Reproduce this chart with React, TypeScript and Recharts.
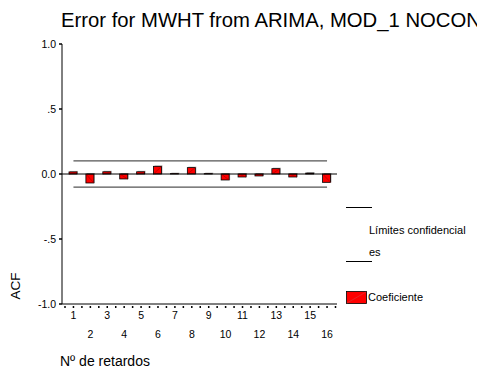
import React from "react";
import {
  ComposedChart,
  Bar,
  Line,
  XAxis,
  YAxis,
  ReferenceLine,
  Legend,
} from "recharts";

const lags = ["1", "2", "3", "4", "5", "6", "7", "8", "9", "10", "11", "12", "13", "14", "15", "16"];
const acfValues = [0.016, -0.069, 0.017, -0.038, 0.017, 0.059, 0.003, 0.049, 0.003, -0.046, -0.023, -0.015, 0.041, -0.023, 0.007, -0.064];
const upperLimits = [0.101, 0.101, 0.101, 0.101, 0.101, 0.101, 0.101, 0.101, 0.101, 0.101, 0.101, 0.101, 0.101, 0.101, 0.101, 0.101];
const lowerLimits = [-0.101, -0.101, -0.101, -0.101, -0.101, -0.101, -0.101, -0.101, -0.101, -0.101, -0.101, -0.101, -0.101, -0.101, -0.101, -0.101];
const yTicks = [-1, -0.5, 0, 0.5, 1];

const FONT = "'Liberation Sans', Arial, sans-serif";
const RED = "#ff0000";
const HALF_STEP = 8.45;

const data = lags.map((lag, i) => ({
  lag,
  acf: acfValues[i],
  upper: upperLimits[i],
  lower: lowerLimits[i],
}));

function fmtY(v: number) {
  const s = v.toFixed(1);
  if (v !== 0 && Math.abs(v) < 1) return s.replace("0.", ".");
  return s;
}

function AcfBar(props: any) {
  const { x, y, width, height } = props;
  const top = Math.min(y, y + height);
  const bottom = Math.max(y, y + height);
  const h = bottom - top;
  const pos = (props.payload?.acf ?? 0) >= 0;
  return (
    <g>
      <rect x={x + 1} y={top - 1} width={width} height={h + 1} fill="#b8b8b8" />
      <rect x={x} y={top} width={width} height={h} fill={RED} stroke="#000" strokeWidth={0.8} />
      {h > 2 && (
        <line
          x1={x}
          y1={pos ? bottom : top}
          x2={x + width}
          y2={pos ? top : bottom}
          stroke="#a00000"
          strokeWidth={0.6}
        />
      )}
    </g>
  );
}

function LagTick(props: any) {
  const { x, y, payload } = props;
  const even = Number(payload.value) % 2 === 0;
  return (
    <g>
      <line x1={x} x2={x} y1={y} y2={y + 2} stroke="#000" strokeWidth={1.5} />
      <line x1={x - HALF_STEP} x2={x - HALF_STEP} y1={y} y2={y + 2} stroke="#000" strokeWidth={1.5} />
      {payload.value === "16" && (
        <line x1={x + HALF_STEP} x2={x + HALF_STEP} y1={y} y2={y + 2} stroke="#000" strokeWidth={1.5} />
      )}
      <text
        x={x}
        y={y + (even ? 32 : 13)}
        textAnchor="middle"
        fontSize={10.5}
        fontFamily={FONT}
        fill="#000"
      >
        {payload.value}
      </text>
    </g>
  );
}

function AcfLabel(props: any) {
  const vb = props.viewBox || {};
  const cx = 15.5;
  const cy = (vb.y ?? 44) + (vb.height ?? 260) - 18;
  return (
    <text
      x={cx}
      y={cy}
      transform={`rotate(-90 ${cx} ${cy})`}
      textAnchor="middle"
      dominantBaseline="central"
      fontSize={13.5}
      fontFamily={FONT}
      fill="#000"
    >
      ACF
    </text>
  );
}

function LagLabel(props: any) {
  const vb = props.viewBox || {};
  return (
    <text
      x={(vb.x ?? 62) - 2}
      y={(vb.y ?? 304) + 62}
      textAnchor="start"
      fontSize={14}
      fontFamily={FONT}
      fill="#000"
    >
      Nº de retardos
    </text>
  );
}

function AcfLegend() {
  return (
    <div style={{ position: "relative", width: 130, height: 110, fontFamily: FONT, fontSize: 11, color: "#000" }}>
      <div style={{ position: "absolute", left: 0, top: 12, width: 26, borderTop: "1px solid #000" }} />
      <div style={{ position: "absolute", left: 23, top: 24, lineHeight: "22px", whiteSpace: "nowrap" }}>
        Límites confidencial
        <br />
        es
      </div>
      <div style={{ position: "absolute", left: 0, top: 66, width: 26, borderTop: "1px solid #000" }} />
      <svg style={{ position: "absolute", left: 0, top: 96 }} width={21} height={13}>
        <rect x={0.5} y={0.5} width={20} height={12} fill={RED} stroke="#000" strokeWidth={0.8} />
        <line x1={1} y1={12} x2={20} y2={1} stroke="#d04040" strokeWidth={0.6} />
      </svg>
      <div style={{ position: "absolute", left: 22, top: 96, lineHeight: "13px", whiteSpace: "nowrap" }}>
        Coeficiente
      </div>
    </div>
  );
}

export default function App() {
  return (
    <div
      style={{
        position: "absolute",
        left: 0,
        top: 0,
        width: 477,
        height: 376,
        overflow: "hidden",
        background: "#fff",
        fontFamily: FONT,
      }}
    >
      <div
        style={{
          position: "absolute",
          left: 61,
          top: 9,
          fontSize: 20.3,
          whiteSpace: "nowrap",
          color: "#000",
        }}
      >
        Error for MWHT from ARIMA, MOD_1 NOCON
      </div>
      <ComposedChart
        width={477}
        height={376}
        data={data}
        margin={{ top: 44, right: 10, left: 0, bottom: 0 }}
        barSize={8}
      >
        <XAxis
          dataKey="lag"
          height={72}
          padding={{ left: 3, right: 1.5 }}
          axisLine={{ stroke: "#000" }}
          tickLine={false}
          tickSize={0}
          tick={<LagTick />}
          interval={0}
          label={<LagLabel />}
        />
        <XAxis xAxisId="top" orientation="top" dataKey="lag" height={0} tick={false} tickLine={false} axisLine={{ stroke: "#000" }} />
        <YAxis
          domain={[-1, 1]}
          ticks={yTicks}
          width={62}
          tickFormatter={fmtY}
          tickSize={3}
          tickMargin={3}
          tickLine={{ stroke: "#000", strokeWidth: 1.5 }}
          axisLine={{ stroke: "#000" }}
          tick={{ fontSize: 10.5, fill: "#000", fontFamily: FONT }}
          label={<AcfLabel />}
        />
        <YAxis yAxisId="right" orientation="right" width={0} domain={[-1, 1]} tick={false} tickLine={false} axisLine={{ stroke: "#000" }} />
        <ReferenceLine y={0} stroke="#000" strokeWidth={1} />
        <Line dataKey="upper" stroke="#555" strokeWidth={1.2} dot={false} activeDot={false} isAnimationActive={false} />
        <Line dataKey="lower" stroke="#555" strokeWidth={1.2} dot={false} activeDot={false} isAnimationActive={false} />
        <Bar dataKey="acf" shape={<AcfBar />} isAnimationActive={false} />
        <Legend
          layout="vertical"
          verticalAlign="top"
          align="right"
          content={() => <AcfLegend />}
          wrapperStyle={{ position: "absolute", left: 346, top: 195, width: 130 }}
        />
      </ComposedChart>
    </div>
  );
}
